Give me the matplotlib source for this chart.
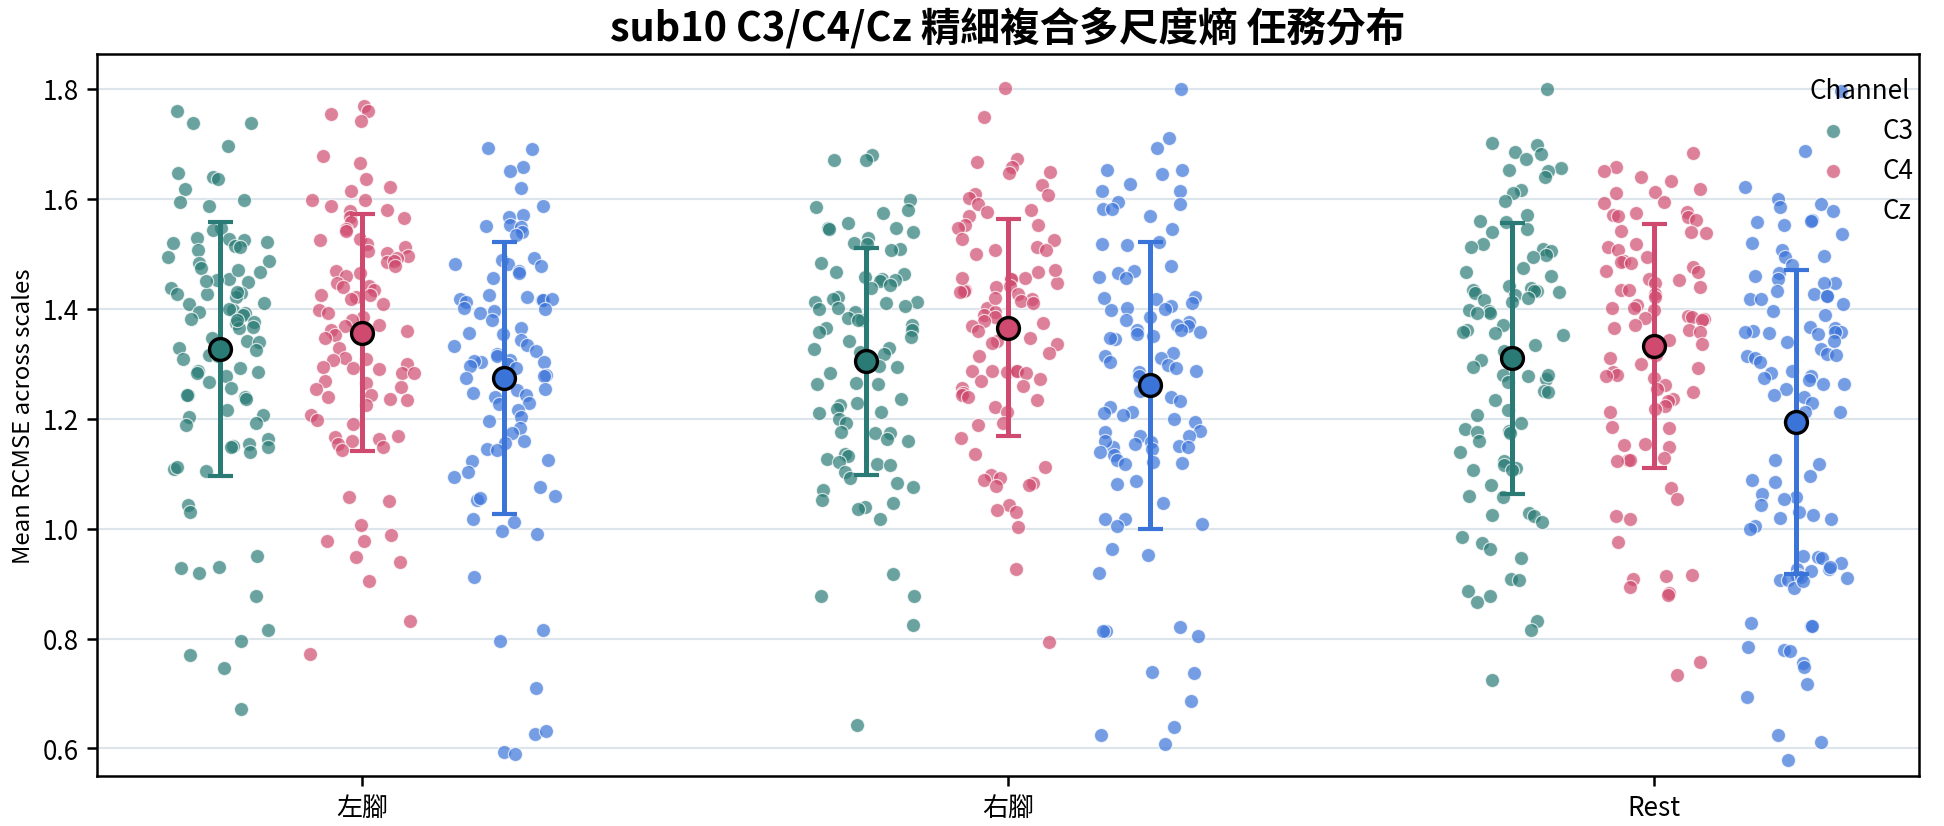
import numpy as np
import matplotlib
matplotlib.use("Agg")
import matplotlib.pyplot as plt

plt.rcParams['font.family'] = ['Noto Sans CJK TC', 'DejaVu Sans']

# categories / channels
tasks = ['左腳', '右腳', 'Rest']
channels = ['C3', 'C4', 'Cz']
colors = ['#2a7b75', '#cf4a6e', '#3b74d9']

# mean RCMSE per trial
left_c3 = [1.76, 1.737, 1.737, 1.696, 1.647, 1.64, 1.636, 1.618, 1.597, 1.593, 1.587,
           1.546, 1.543, 1.527, 1.525, 1.521, 1.529, 1.514, 1.512, 1.506, 1.493, 1.487,
           1.483, 1.473, 1.467, 1.453, 1.452, 1.448, 1.437, 1.428, 1.427, 1.427, 1.421,
           1.411, 1.408, 1.398, 1.394, 1.392, 1.388, 1.381, 1.375, 1.373, 1.365, 1.367,
           1.346, 1.342, 1.340, 1.329, 1.325, 1.315, 1.313, 1.308, 1.292, 1.287, 1.285,
           1.282, 1.277, 1.267, 1.256, 1.243, 1.242, 1.240, 1.235, 1.215, 1.206, 1.203,
           1.192, 1.188, 1.163, 1.150, 1.148, 1.148, 1.153, 1.140, 1.108, 1.104, 1.112,
           1.042, 1.031, 0.95, 0.929, 0.919, 0.93, 0.877, 0.815, 0.796, 0.77, 0.746, 0.672,
           1.52, 1.47, 1.45, 1.40, 1.38, 1.43]
left_c4 = [1.769, 1.760, 1.754, 1.742, 1.677, 1.664, 1.635, 1.621, 1.613, 1.597, 1.598,
           1.586, 1.579, 1.578, 1.567, 1.565, 1.557, 1.544, 1.542, 1.527, 1.525, 1.518,
           1.512, 1.504, 1.502, 1.496, 1.492, 1.485, 1.487, 1.477, 1.468, 1.465, 1.460,
           1.446, 1.442, 1.44, 1.433, 1.425, 1.425, 1.421, 1.418, 1.408, 1.398, 1.392,
           1.385, 1.379, 1.371, 1.368, 1.362, 1.36, 1.352, 1.346, 1.329, 1.31, 1.307,
           1.308, 1.3, 1.293, 1.292, 1.29, 1.283, 1.282, 1.268, 1.264, 1.258, 1.254,
           1.243, 1.239, 1.235, 1.233, 1.225, 1.207, 1.198, 1.19, 1.168, 1.167, 1.163,
           1.16, 1.154, 1.148, 1.142, 1.058, 1.05, 1.006, 0.989, 0.977, 0.977, 0.948,
           0.94, 0.904, 0.831, 0.771]
left_cz = [1.693, 1.69, 1.657, 1.65, 1.619, 1.587, 1.571, 1.567, 1.552, 1.548, 1.55,
           1.54, 1.533, 1.492, 1.488, 1.482, 1.481, 1.477, 1.468, 1.465, 1.456, 1.425,
           1.422, 1.417, 1.415, 1.415, 1.417, 1.412, 1.402, 1.40, 1.396, 1.392, 1.379,
           1.365, 1.356, 1.353, 1.343, 1.333, 1.332, 1.323, 1.317, 1.313, 1.306, 1.303,
           1.303, 1.304, 1.30, 1.296, 1.292, 1.279, 1.277, 1.273, 1.252, 1.253, 1.246,
           1.24, 1.242, 1.229, 1.227, 1.215, 1.202, 1.196, 1.183, 1.173, 1.16, 1.156,
           1.145, 1.142, 1.125, 1.122, 1.103, 1.093, 1.075, 1.06, 1.052, 1.056, 1.017,
           1.012, 0.996, 0.99, 0.911, 0.815, 0.796, 0.71, 0.627, 0.631, 0.594, 0.59]
right_c3 = [1.68, 1.671, 1.67, 1.598, 1.579, 1.585, 1.573, 1.556, 1.546, 1.544, 1.546,
            1.539, 1.529, 1.52, 1.517, 1.508, 1.506, 1.483, 1.467, 1.463, 1.458, 1.454,
            1.452, 1.45, 1.443, 1.437, 1.421, 1.418, 1.412, 1.412, 1.411, 1.404, 1.402,
            1.40, 1.393, 1.383, 1.379, 1.379, 1.371, 1.364, 1.362, 1.357, 1.348, 1.342,
            1.329, 1.327, 1.321, 1.317, 1.296, 1.293, 1.283, 1.264, 1.262, 1.262, 1.235,
            1.229, 1.225, 1.218, 1.212, 1.21, 1.20, 1.192, 1.175, 1.173, 1.173, 1.16,
            1.163, 1.135, 1.132, 1.127, 1.121, 1.118, 1.115, 1.103, 1.092, 1.083, 1.075,
            1.071, 1.052, 1.046, 1.04, 1.036, 1.017, 0.918, 0.877, 0.878, 0.825, 0.642]
right_c4 = [1.802, 1.749, 1.673, 1.667, 1.657, 1.648, 1.646, 1.625, 1.608, 1.607, 1.602,
            1.59, 1.579, 1.575, 1.568, 1.552, 1.552, 1.546, 1.527, 1.525, 1.512, 1.506,
            1.50, 1.507, 1.467, 1.456, 1.454, 1.454, 1.446, 1.442, 1.433, 1.432, 1.427,
            1.417, 1.414, 1.41, 1.402, 1.394, 1.388, 1.385, 1.377, 1.373, 1.368, 1.36,
            1.346, 1.342, 1.337, 1.335, 1.319, 1.313, 1.287, 1.285, 1.286, 1.287, 1.287,
            1.283, 1.272, 1.268, 1.26, 1.256, 1.246, 1.242, 1.239, 1.233, 1.221, 1.212,
            1.192, 1.189, 1.164, 1.135, 1.112, 1.097, 1.092, 1.088, 1.083, 1.079, 1.077,
            1.043, 1.033, 1.031, 1.002, 0.927, 0.793,
            1.47, 1.455, 1.44, 1.43, 1.42]
right_cz = [1.80, 1.71, 1.692, 1.652, 1.652, 1.644, 1.627, 1.613, 1.613, 1.594, 1.59,
            1.582, 1.581, 1.568, 1.544, 1.521, 1.518, 1.515, 1.478, 1.468, 1.464, 1.458,
            1.456, 1.421, 1.419, 1.417, 1.41, 1.404, 1.402, 1.40, 1.398, 1.385, 1.379,
            1.375, 1.369, 1.371, 1.362, 1.362, 1.358, 1.353, 1.35, 1.345, 1.346, 1.319,
            1.313, 1.31, 1.302, 1.297, 1.292, 1.287, 1.285, 1.277, 1.25, 1.24, 1.232,
            1.221, 1.212, 1.21, 1.207, 1.20, 1.193, 1.177, 1.175, 1.168, 1.169, 1.158,
            1.154, 1.15, 1.148, 1.148, 1.145, 1.133, 1.125, 1.121, 1.118, 1.119, 1.086,
            1.081, 1.046, 1.017, 1.017, 1.008, 1.004, 0.962, 0.952, 0.92, 0.821, 0.813,
            0.814, 0.804, 0.74, 0.737, 0.686, 0.639, 0.625, 0.609, 1.16, 1.14]
rest_c3 = [1.80, 1.702, 1.698, 1.685, 1.681, 1.673, 1.656, 1.652, 1.65, 1.64, 1.615,
           1.611, 1.596, 1.571, 1.56, 1.558, 1.544, 1.54, 1.518, 1.512, 1.508, 1.504,
           1.497, 1.493, 1.473, 1.467, 1.46, 1.442, 1.437, 1.433, 1.432, 1.429, 1.431,
           1.432, 1.425, 1.419, 1.415, 1.412, 1.397, 1.396, 1.392, 1.392, 1.371, 1.362,
           1.358, 1.356, 1.352, 1.333, 1.323, 1.307, 1.293, 1.279, 1.277, 1.272, 1.267,
           1.279, 1.25, 1.248, 1.233, 1.215, 1.206, 1.192, 1.181, 1.177, 1.175, 1.173,
           1.16, 1.14, 1.122, 1.115, 1.111, 1.106, 1.106, 1.079, 1.06, 1.058, 1.029,
           1.025, 1.022, 1.012, 0.985, 0.973, 0.962, 0.946, 0.908, 0.907, 0.886, 0.878,
           0.867, 0.832, 0.815, 0.725]
rest_c4 = [1.683, 1.658, 1.65, 1.64, 1.633, 1.618, 1.612, 1.61, 1.593, 1.592, 1.575,
           1.573, 1.571, 1.568, 1.567, 1.562, 1.542, 1.537, 1.539, 1.518, 1.512, 1.507,
           1.493, 1.487, 1.485, 1.483, 1.475, 1.469, 1.467, 1.454, 1.452, 1.446, 1.44,
           1.433, 1.433, 1.427, 1.421, 1.407, 1.402, 1.402, 1.397, 1.386, 1.385, 1.383,
           1.382, 1.379, 1.371, 1.365, 1.362, 1.358, 1.343, 1.335, 1.319, 1.315, 1.31,
           1.30, 1.292, 1.285, 1.279, 1.277, 1.273, 1.261, 1.253, 1.248, 1.235, 1.232,
           1.223, 1.218, 1.212, 1.185, 1.183, 1.152, 1.153, 1.148, 1.129, 1.125, 1.125,
           1.122, 1.073, 1.053, 1.022, 1.018, 0.975, 0.914, 0.908, 0.915, 0.893, 0.882,
           0.879, 0.757, 0.733]
rest_cz = [1.796, 1.686, 1.622, 1.60, 1.59, 1.585, 1.562, 1.558, 1.56, 1.552, 1.536,
           1.519, 1.507, 1.496, 1.493, 1.479, 1.464, 1.46, 1.454, 1.446, 1.446, 1.432,
           1.427, 1.423, 1.423, 1.418, 1.417, 1.408, 1.396, 1.388, 1.367, 1.365, 1.36,
           1.358, 1.358, 1.356, 1.354, 1.358, 1.342, 1.339, 1.327, 1.317, 1.313, 1.315,
           1.31, 1.302, 1.287, 1.283, 1.277, 1.273, 1.271, 1.262, 1.263, 1.254, 1.242,
           1.24, 1.229, 1.212, 1.212, 1.193, 1.125, 1.118, 1.096, 1.088, 1.085, 1.062,
           1.058, 1.053, 1.042, 1.031, 1.025, 1.019, 1.018, 1.004, 1.0, 0.948, 0.95,
           0.946, 0.937, 0.927, 0.927, 0.923, 0.915, 0.914, 0.91, 0.907, 0.907, 0.892,
           0.823, 0.829, 0.823, 0.785, 0.779, 0.777, 0.756, 0.748, 0.717, 0.693, 0.625,
           0.611, 0.579, 0.93, 0.912, 0.905]

data = {
    ('左腳', 'C3'): left_c3, ('左腳', 'C4'): left_c4, ('左腳', 'Cz'): left_cz,
    ('右腳', 'C3'): right_c3, ('右腳', 'C4'): right_c4, ('右腳', 'Cz'): right_cz,
    ('Rest', 'C3'): rest_c3, ('Rest', 'C4'): rest_c4, ('Rest', 'Cz'): rest_cz,
}

dodge = 0.22
jitter = 0.08
rng = np.random.default_rng(3)  # x jitter only

fig = plt.figure(figsize=(12.96, 5.513), dpi=150)
ax = fig.add_axes([0.0499, 0.0605, 0.9372, 0.873])

for ti, task in enumerate(tasks):
    for ci, ch in enumerate(channels):
        y = np.array(data[(task, ch)])
        x = ti + (ci - 1) * dodge + rng.uniform(-jitter, jitter, len(y))
        ax.scatter(x, y, s=46, color=colors[ci], alpha=0.7, edgecolor='white',
                   linewidth=0.6, zorder=2, label=ch if ti == 0 else None)

# mean +- sd on top
for ti, task in enumerate(tasks):
    for ci, ch in enumerate(channels):
        y = np.array(data[(task, ch)])
        xc = ti + (ci - 1) * dodge
        m, sd = y.mean(), y.std(ddof=1)
        ax.errorbar(xc, m, yerr=sd, fmt='none', ecolor=colors[ci], elinewidth=2.4,
                    capsize=6, capthick=2.0, zorder=3)
        ax.plot(xc, m, 'o', ms=10.5, mfc=colors[ci], mec='black', mew=1.6, zorder=4)

ax.set_xlim(-0.41, 2.41)
ax.set_ylim(0.55, 1.863)
ax.set_xticks(range(len(tasks)))
ax.set_xticklabels(tasks, fontsize=12.5)
yt = np.arange(0.6, 1.81, 0.2)
ax.set_yticks(yt)
ax.set_yticklabels([f'{v:.1f}' for v in yt], fontsize=12.5)
ax.yaxis.grid(True, color='#dce4ec', linewidth=1.0, zorder=0)
ax.set_axisbelow(True)
for s in ax.spines.values():
    s.set_linewidth(1.2)
ax.tick_params(width=1.2, length=5)

ax.set_ylabel('Mean RCMSE across scales', fontsize=11.5)
ax.set_title('sub10 C3/C4/Cz 精細複合多尺度熵 任務分布', fontsize=19, fontweight='bold', pad=7)

leg = ax.legend(title='Channel', loc='upper right', frameon=False, fontsize=12.5,
                title_fontsize=12.5, borderaxespad=0.1, bbox_to_anchor=(1.004, 0.986),
                handletextpad=0.9)

fig.savefig('out.png', dpi=150)
